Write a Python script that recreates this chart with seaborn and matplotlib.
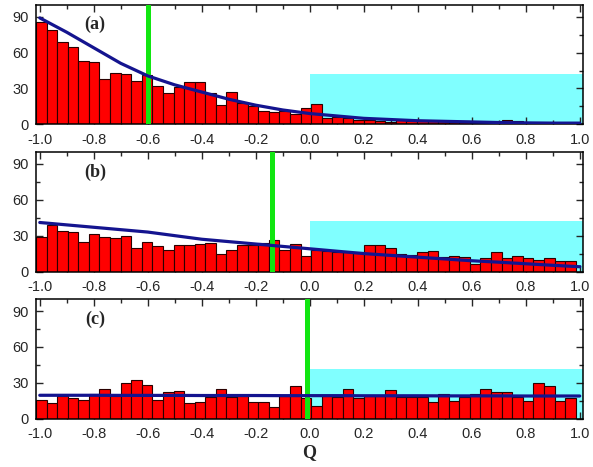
import numpy as np
import pandas as pd
import matplotlib
matplotlib.use("Agg")
import matplotlib.pyplot as plt
from matplotlib.patches import Rectangle
from matplotlib.ticker import MultipleLocator, FormatStrFormatter
import seaborn as sns

# ---------------- data ----------------
bin_left = -1.014
bin_right = 0.985
n_bins = 51

counts_a = [86, 79, 69, 65, 53, 52, 38, 43, 42, 36, 41, 32, 26, 31, 35, 35, 26, 16, 27, 18,
            15, 11, 10, 11, 9, 14, 17, 5, 6, 5, 4, 4, 3, 2, 4, 3, 3, 3, 3, 2,
            3, 1, 1, 1, 4, 3, 1, 1, 1, 1, 1]
counts_b = [29, 39, 34, 33, 25, 31, 29, 28, 30, 20, 25, 21, 18, 22, 22, 23, 24, 15, 18, 22,
            22, 24, 26, 18, 23, 13, 18, 17, 16, 16, 16, 22, 22, 20, 15, 14, 16, 17, 12, 13,
            12, 6, 11, 16, 11, 13, 11, 10, 11, 9, 9]
counts_c = [16, 13, 19, 17, 16, 21, 25, 19, 30, 32, 28, 16, 22, 23, 13, 14, 18, 25, 18, 19,
            14, 14, 10, 19, 27, 17, 11, 19, 18, 25, 17, 19, 19, 24, 18, 18, 18, 14, 21, 15,
            18, 21, 25, 22, 22, 18, 15, 30, 27, 15, 17]

fit_x = [-1.0, -0.9, -0.8, -0.7, -0.6, -0.5, -0.4, -0.3, -0.2, -0.1, 0.0,
         0.1, 0.2, 0.3, 0.4, 0.5, 0.6, 0.7, 0.8, 0.9, 1.0]
fit_a = [89, 77, 64, 51, 40.5, 33, 27, 21, 16, 12, 9,
         7, 5, 4, 3, 2.5, 2, 1.5, 1.2, 1, 1]
fit_b = [41, 39, 37, 35, 33, 30, 27, 25, 23, 21, 19,
         17, 15, 13.5, 12, 10.5, 9, 7.8, 6.5, 5.2, 4]
fit_c = [19.6, 19.6, 19.6, 19.5, 19.5, 19.5, 19.4, 19.4, 19.4, 19.3, 19.3,
         19.3, 19.2, 19.2, 19.2, 19.1, 19.1, 19.1, 19.0, 19.0, 19.0]

green_x = [-0.6, -0.14, -0.01]
panel_labels = ["(a)", "(b)", "(c)"]
band_top = 42
band_left = 0.0

# ---------------- style ----------------
sns.set_style("ticks")
plt.rcParams["font.family"] = ["Liberation Sans", "DejaVu Sans"]

fig = plt.figure(figsize=(5.93, 4.67), dpi=100)
left, width, height = 0.0607, 0.9224, 0.256
bottoms = [0.7338, 0.4186, 0.1034]

bin_w = (bin_right - bin_left) / n_bins
centers = [bin_left + bin_w * (k + 0.5) for k in range(n_bins)]
xlim = (-1.014, 1.012)

for i, (counts, fit_y, gx, lab) in enumerate(zip([counts_a, counts_b, counts_c],
                                                [fit_a, fit_b, fit_c],
                                                green_x, panel_labels)):
    ax = fig.add_axes([left, bottoms[i], width, height])
    ax.add_patch(Rectangle((band_left, 0), xlim[1] - band_left, band_top,
                           facecolor="#80ffff", edgecolor="none", zorder=0))
    df = pd.DataFrame({"x": centers, "w": counts})
    sns.histplot(data=df, x="x", weights="w", bins=n_bins, binrange=(bin_left, bin_right),
                 color="#ff0000", alpha=1, edgecolor="#2a0000", linewidth=0.8,
                 ax=ax, zorder=2)
    ax.axvline(gx, color="#11e611", lw=3.6, zorder=3)
    sns.lineplot(x=fit_x, y=fit_y, color="#14148f", lw=2.3, ax=ax, zorder=4)

    ax.set_xlim(*xlim)
    ax.set_ylim(0, 100)
    ax.xaxis.set_major_locator(MultipleLocator(0.2))
    ax.xaxis.set_minor_locator(MultipleLocator(0.1))
    ax.xaxis.set_major_formatter(FormatStrFormatter("%.1f"))
    ax.yaxis.set_major_locator(MultipleLocator(30))
    ax.yaxis.set_minor_locator(MultipleLocator(15))
    ax.tick_params(which="both", direction="in", top=True, right=True,
                   labelsize=10.5, width=1.0)
    ax.tick_params(axis="x", which="both", pad=6)
    ax.tick_params(axis="y", which="both", pad=5)
    ax.tick_params(which="major", length=5)
    ax.tick_params(which="minor", length=3)
    for s in ax.spines.values():
        s.set_linewidth(1.1)
        s.set_color("black")
    ax.set_xlabel("")
    ax.set_ylabel("")
    ax.text(0.108, 0.833, lab, transform=ax.transAxes, ha="center", va="center",
            fontsize=13, fontweight="bold", family=["Liberation Serif", "DejaVu Serif"])
    if i == 2:
        ax.set_xlabel("Q", fontsize=13, fontweight="bold",
                      family=["Liberation Serif", "DejaVu Serif"], labelpad=2)

fig.savefig("out.png", dpi=100)
